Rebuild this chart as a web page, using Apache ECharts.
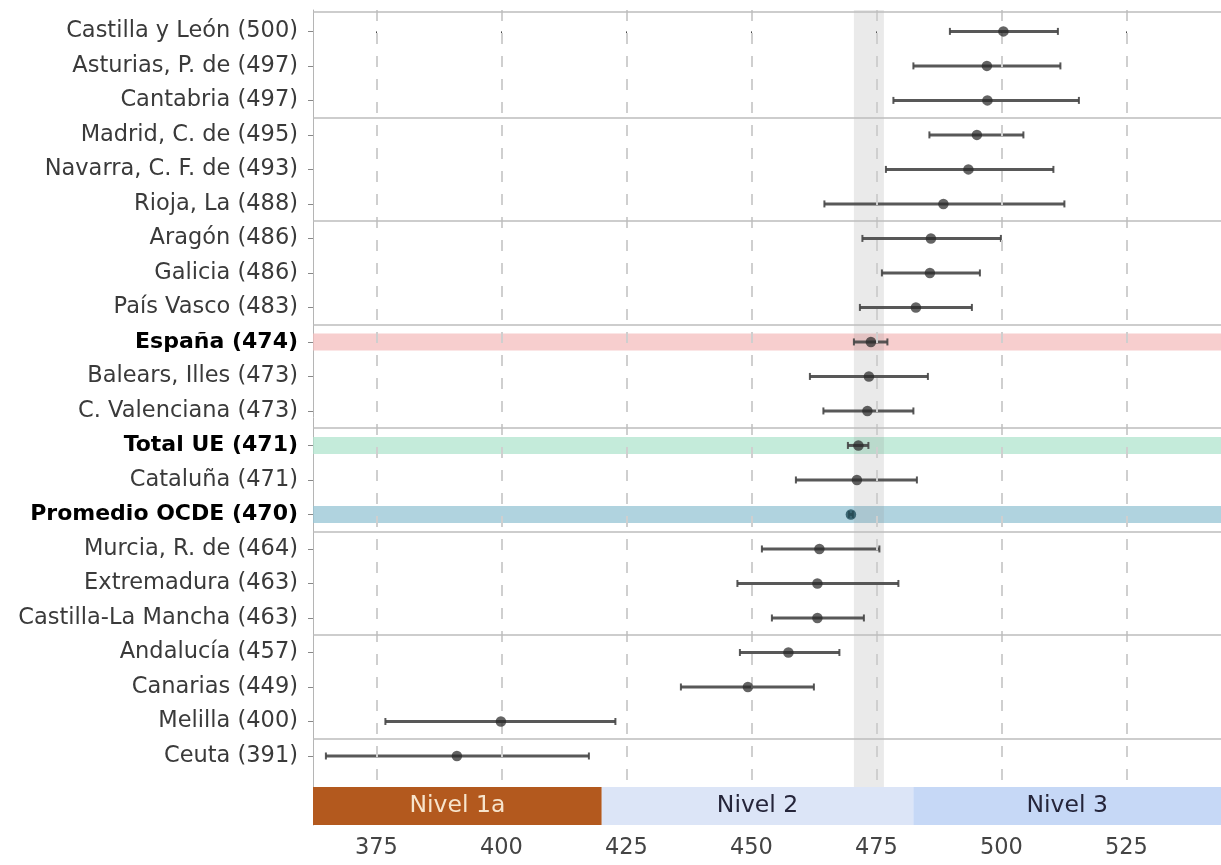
<!DOCTYPE html>
<html>
<head>
<meta charset="utf-8">
<script src="https://cdn.jsdelivr.net/npm/echarts@6/dist/echarts.min.js"></script>
<style>html,body{margin:0;padding:0;background:#fff}#c{width:1221px;height:865px}</style>
</head>
<body>
<div id="c"></div>
<script>
// ---- data ----
const labels = ['Castilla y León (500)', 'Asturias, P. de (497)', 'Cantabria (497)', 'Madrid, C. de (495)',
  'Navarra, C. F. de (493)', 'Rioja, La (488)', 'Aragón (486)', 'Galicia (486)', 'País Vasco (483)',
  'España (474)', 'Balears, Illes (473)', 'C. Valenciana (473)', 'Total UE (471)', 'Cataluña (471)',
  'Promedio OCDE (470)', 'Murcia, R. de (464)', 'Extremadura (463)', 'Castilla-La Mancha (463)',
  'Andalucía (457)', 'Canarias (449)', 'Melilla (400)', 'Ceuta (391)'];
const scores = [500.4, 497.1, 497.2, 495.1, 493.4, 488.4, 485.9, 485.7, 482.9, 473.9, 473.5, 473.2,
  471.4, 471.1, 469.9, 463.6, 463.2, 463.2, 457.4, 449.3, 399.9, 391.1];
const ciLow = [489.7, 482.4, 478.4, 485.6, 476.9, 464.6, 472.2, 476.1, 471.7, 470.5, 461.7, 464.4,
  469.3, 458.9, 469.5, 452.1, 447.2, 454.1, 447.7, 435.9, 376.8, 364.9];
const ciHigh = [511.3, 511.8, 515.5, 504.4, 510.4, 512.6, 499.9, 495.7, 494.1, 477.2, 485.3, 482.4,
  473.4, 483.1, 470.3, 475.6, 479.4, 472.5, 467.6, 462.5, 422.8, 417.5];
const boldRows = ['España (474)', 'Total UE (471)', 'Promedio OCDE (470)'];
const highlightRows = ['España (474)', 'Total UE (471)', 'Promedio OCDE (470)'];
const highlightColors = ['rgba(244,190,190,0.75)', 'rgba(176,228,206,0.75)', 'rgba(150,196,212,0.75)'];
const xTicks = [375, 400, 425, 450, 475, 500, 525];
const spainBand = [470.5, 476.5];
const levelNames = ['Nivel 1a', 'Nivel 2', 'Nivel 3'];
const levelBounds = [[362.32, 420.07], [420.07, 482.38], [482.38, 543.92]];
const levelColors = ['#b3591e', '#dce5f7', '#c6d8f6'];
const levelText = ['#f7e4cc', '#25253a', '#25253a'];
const groupSeparators = [2.5, 5.5, 8.5, 11.5, 14.5, 17.5, 20.5];

const FONT = 'DejaVu Sans';
const X_MIN = 362.32, X_MAX = 543.92, Y_MIN = -0.62, Y_MAX = 23.0;
const rowIdx = labels.map((_, i) => i);

const chart = echarts.init(document.getElementById('c'), null, {renderer: 'canvas'});

const errData = labels.map((l, i) => [i, ciLow[i], ciHigh[i]]);
const ptData = labels.map((l, i) => ({
  value: [scores[i], i],
  itemStyle: {color: l.startsWith('Promedio') ? '#1f4d5a' : 'rgba(40,40,40,0.9)'}
}));

const option = {
  animation: false,
  backgroundColor: '#fff',
  grid: {left: 313, right: 0, top: 10, bottom: 40},
  xAxis: {
    type: 'value', min: X_MIN, max: X_MAX,
    axisLine: {show: false},
    axisTick: {show: true, customValues: xTicks, length: 5, lineStyle: {color: '#444'}},
    axisLabel: {customValues: xTicks, color: '#444', fontFamily: FONT, fontSize: 22.5, margin: 12},
    splitLine: {show: false}
  },
  yAxis: {
    type: 'value', inverse: true, min: Y_MIN, max: Y_MAX,
    axisLine: {show: true, lineStyle: {color: '#b5b5b5', width: 1}},
    axisTick: {show: true, customValues: rowIdx, length: 5, lineStyle: {color: '#888'}},
    axisLabel: {
      customValues: rowIdx, margin: 15,
      formatter: v => {
        const l = labels[Math.round(v)];
        if (l === undefined) return '';
        return boldRows.includes(l) ? '{b|' + l + '}' : '{n|' + l + '}';
      },
      rich: {
        n: {fontFamily: FONT, fontSize: 22.5, color: '#3a3a3a'},
        b: {fontFamily: FONT, fontSize: 22, color: '#000', fontWeight: 'bold'}
      }
    },
    splitLine: {show: false}
  },
  series: [
    { // highlight bands + dashed grid
      type: 'scatter', data: [], z: 1, silent: true,
      markArea: {
        silent: true,
        data: highlightRows.map((r, k) => {
          const i = labels.indexOf(r);
          return [{xAxis: X_MIN, yAxis: i - 0.245, itemStyle: {color: highlightColors[k]}},
                  {xAxis: X_MAX, yAxis: i + 0.245}];
        })
      },
      markLine: {
        silent: true, symbol: ['none', 'none'], label: {show: false},
        lineStyle: {color: '#cfcfcf', width: 2, type: [11, 12]},
        data: xTicks.map(t => [{coord: [t, Y_MIN]}, {coord: [t, 21.9]}])
      }
    },
    { // Spain CI gray band
      type: 'scatter', data: [], z: 2, silent: true,
      markArea: {
        silent: true,
        itemStyle: {color: 'rgba(150,150,150,0.2)'},
        data: [[{xAxis: spainBand[0], yAxis: Y_MIN}, {xAxis: spainBand[1], yAxis: 21.9}]]
      }
    },
    { // group separators
      type: 'scatter', data: [], z: 3, silent: true,
      markLine: {
        silent: true, symbol: ['none', 'none'], label: {show: false},
        lineStyle: {color: '#bdbdbd', width: 1.5, type: 'solid'},
        data: groupSeparators.map(s => ({yAxis: s})).concat([{yAxis: -0.58}])
      }
    },
    { // error bars
      type: 'custom', z: 4, silent: true,
      encode: {x: [1, 2], y: 0},
      data: errData,
      renderItem: (params, api) => {
        const y = api.value(0);
        const a = api.coord([api.value(1), y]);
        const b = api.coord([api.value(2), y]);
        const st = {stroke: 'rgba(70,70,70,0.9)', lineWidth: 3};
        const cs = {stroke: 'rgba(70,70,70,0.9)', lineWidth: 2};
        return {type: 'group', children: [
          {type: 'line', shape: {x1: a[0], y1: a[1], x2: b[0], y2: b[1]}, style: st},
          {type: 'line', shape: {x1: a[0], y1: a[1] - 3.5, x2: a[0], y2: a[1] + 3.5}, style: cs},
          {type: 'line', shape: {x1: b[0], y1: b[1] - 3.5, x2: b[0], y2: b[1] + 3.5}, style: cs}
        ]};
      }
    },
    { // points
      type: 'scatter', z: 5, silent: true, symbol: 'circle', symbolSize: 10.5,
      data: ptData
    },
    { // level bar
      type: 'scatter', data: [], z: 6, silent: true,
      markArea: {
        silent: true,
        data: levelNames.map((n, k) => [
          {name: n, xAxis: levelBounds[k][0], yAxis: 21.9,
           itemStyle: {color: levelColors[k]},
           label: {show: true, position: 'inside', color: levelText[k], fontFamily: FONT, fontSize: 23.5}},
          {xAxis: levelBounds[k][1], yAxis: Y_MAX}
        ])
      }
    }
  ]
};
chart.setOption(option);
</script>
</body>
</html>
